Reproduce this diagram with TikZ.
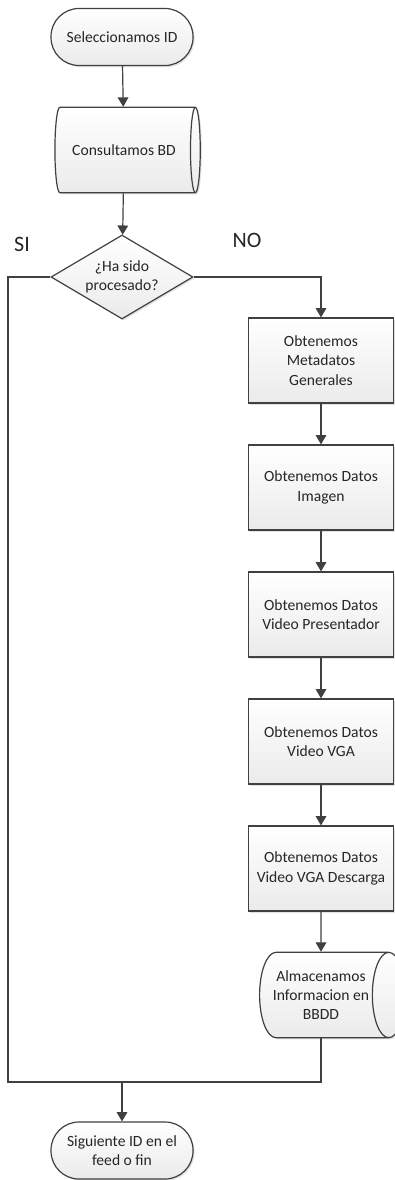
\documentclass[tikz,border=0pt]{standalone}
\usepackage{fontspec}
\setmainfont{Carlito}
\usetikzlibrary{shapes.geometric,arrows.meta,shadows}
\definecolor{ink}{HTML}{404040}
\definecolor{txt}{HTML}{262626}
\begin{document}
\begin{tikzpicture}[x=0.75pt,y=-0.75pt,
  font=\fontsize{11.7}{14.4}\selectfont,
  base/.style={draw=ink, line width=0.9pt, top color=white, bottom color=gray!16,
    text=txt, align=center, inner sep=2pt,
    drop shadow={shadow xshift=1.2pt, shadow yshift=-1.2pt, fill=gray!50, opacity=0.45}},
  term/.style={base, rectangle, rounded corners=21pt, minimum width=106.5pt, minimum height=42.75pt},
  proc/.style={base, rectangle, minimum width=108.75pt, minimum height=63.75pt},
  store/.style={base, cylinder, shape aspect=0.6, minimum height=109pt, minimum width=64pt},
  decide/.style={base, diamond, shape aspect=1.69, minimum width=106.5pt, minimum height=63pt, inner sep=0pt},
  link/.style={draw=ink, line width=0.9pt},
  arr/.style={link, -{Triangle[width=8pt,length=7pt]}},
  tag/.style={text=txt, font=\fontsize{16.5}{18}\selectfont}
]
\useasboundingbox (0,0) rectangle (395,1180);

% start and database query
\node[term] (start) at (122,37) {Seleccionamos ID};
\node[store] (query) at (124,150) {Consultamos BD};
\node[decide] (dec) at (122,277) {¿Ha sido\\procesado?};

% branch labels
\node[tag] (si) at (22,244) {SI};
\node[tag] (no) at (247,240) {NO};

% processing column
\node[proc] (b1) at (321,360.5) {Obtenemos\\Metadatos\\Generales};
\node[proc] (b2) at (321,487.5) {Obtenemos Datos\\Imagen};
\node[proc] (b3) at (321,614.5) {Obtenemos Datos\\Video Presentador};
\node[proc] (b4) at (321,741.5) {Obtenemos Datos\\Video VGA};
\node[proc] (b5) at (321,868.5) {Obtenemos Datos\\Video VGA Descarga};
\node[store] (save) at (321,995) {Almacenamos\\Informacion en\\BBDD};

% end
\node[term] (fin) at (122,1150.5) {Siguiente ID en el\\feed o fin};

\coordinate (lowleft) at (8,1082);
\coordinate (merge) at (122,1082);

\draw[arr] (start) -- (query);
\draw[arr] (query) -- (dec);
\draw[arr] (dec.east) -| (b1.north);
\draw[arr] (b1) -- (b2);
\draw[arr] (b2) -- (b3);
\draw[arr] (b3) -- (b4);
\draw[arr] (b4) -- (b5);
\draw[arr] (b5) -- (save);
\draw[link] (dec.west) -| (lowleft) -- (merge);
\draw[link] (save.south) |- (merge);
\draw[arr] (merge) -- (fin);
\end{tikzpicture}
\end{document}
